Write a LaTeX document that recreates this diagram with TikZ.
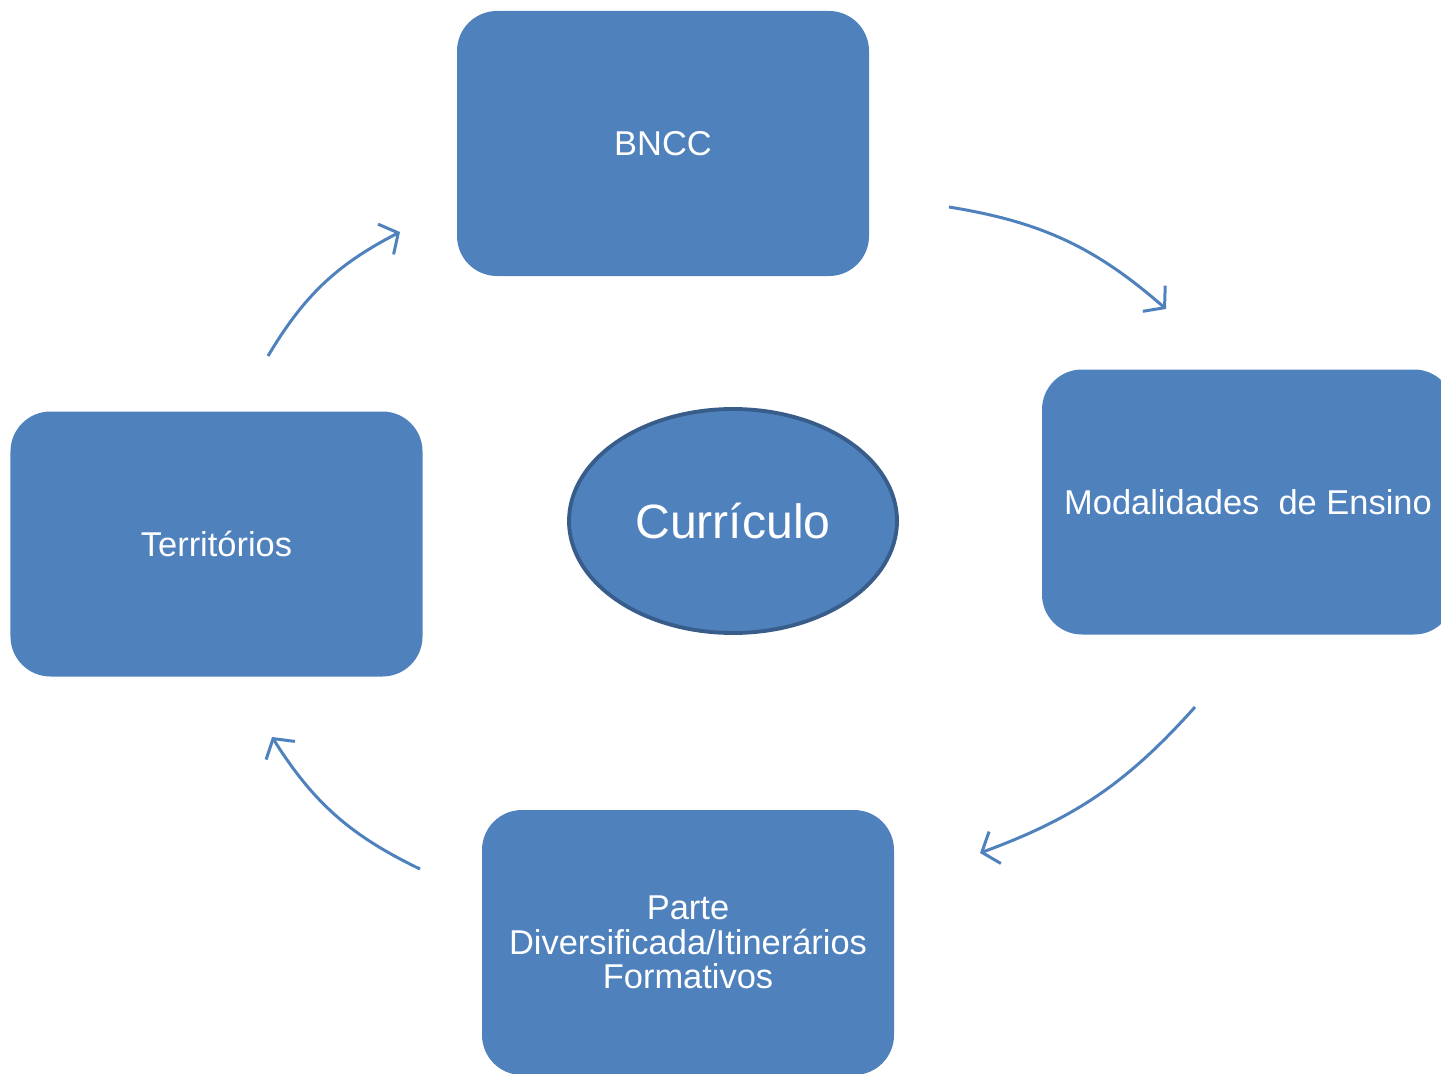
\documentclass[tikz,border=0pt]{standalone}
\usepackage{fontspec}
\setmainfont{Liberation Sans}
\usepackage{xcolor}
\usetikzlibrary{shapes.geometric, arrows.meta, positioning}
\definecolor{boxblue}{HTML}{4F81BD}
\definecolor{rimblue}{HTML}{385D8A}
\tikzstyle{block} = [rectangle, rounded corners=0.4cm, minimum width=4.12cm, minimum height=2.65cm, text centered, fill=boxblue, text=white, font=\fontsize{9.8}{9.9}\selectfont, align=center]
\tikzstyle{center} = [ellipse, minimum width=3.28cm, minimum height=2.24cm, fill=boxblue, draw=rimblue, line width=1.1pt, text=white, font=\fontsize{13.7}{16}\selectfont]
\tikzstyle{arrow} = [draw=boxblue, line width=0.85pt, -{Straight Barb[length=1.4mm,width=3.4mm]}]

\begin{document}
\begin{tikzpicture}
    \useasboundingbox (0,0) rectangle (14.41,10.73);
    \node (curr) [center] at (7.33,5.52) {Currículo};
    \node (bncc) [block] at (6.63,9.295) {BNCC};
    \node (modal) [block] at (12.48,5.71) {Modalidades\ \ de Ensino};
    \node (terr) [block] at (2.165,5.29) {Territórios};
    \node (parte) [block] at (6.88,1.305) {Parte\\Diversificada/Itinerários\\Formativos};
    % free ends of the arrows
    \coordinate (t1) at (2.68,7.17);
    \coordinate (b0) at (4.00,8.41);
    \coordinate (b1) at (9.49,8.66);
    \coordinate (m0) at (11.66,7.64);
    \coordinate (m1) at (11.95,3.66);
    \coordinate (p0) at (9.80,2.20);
    \coordinate (p1) at (4.20,2.04);
    \coordinate (t0) at (2.72,3.36);
    \draw [arrow] (t1) to[bend left=16] (b0);
    \draw [arrow] (b1) to[bend left=16] (m0);
    \draw [arrow] (m1) to[bend left=14] (p0);
    \draw [arrow] (p1) to[bend left=16] (t0);

\end{tikzpicture}
\end{document}
